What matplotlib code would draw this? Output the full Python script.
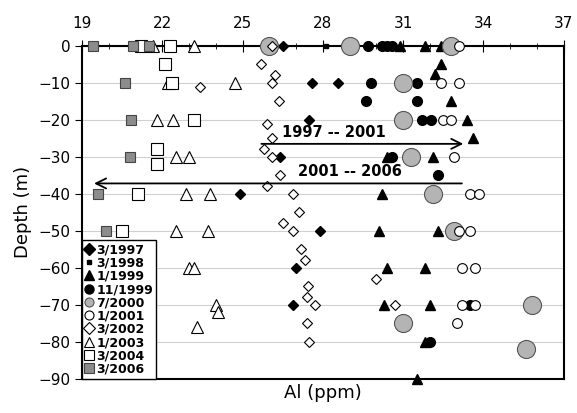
import numpy
from matplotlib import pyplot
from matplotlib.ticker import MultipleLocator

# Al concentration (ppm) and depth (m) per sampling campaign
al_1997 = [26.5, 27.6, 28.55, 27.5, 26.4, 24.9, 27.9, 27.0, 26.9]
z_1997 = [0, -10, -10, -20, -30, -40, -50, -60, -70]

al_1998 = [28.1]
z_1998 = [0]

al_1999a = [30.9, 31.8, 32.4, 32.4, 32.2, 32.8, 33.4, 33.6, 30.4, 32.1,
            30.2, 30.1, 32.3, 30.4, 31.8, 30.3, 32.0, 31.8, 31.5]
z_1999a = [0, 0, 0, -5, -7.5, -15, -20, -25, -30, -30,
           -40, -50, -50, -60, -60, -70, -70, -80, -90]

al_1999b = [29.7, 30.2, 30.4, 30.6, 29.8, 31.5, 29.6, 31.5, 31.7, 32.05,
            30.6, 32.3, 33.5, 32.0]
z_1999b = [0, 0, 0, 0, -10, -10, -15, -15, -20, -20,
           -30, -35, -70, -80]

al_2000 = [26.0, 29.0, 32.8, 31.0, 31.0, 31.3, 32.1, 32.9, 35.8, 31.0, 35.6]
z_2000 = [0, 0, 0, -10, -20, -30, -40, -50, -70, -75, -82]

al_2001 = [33.1, 32.4, 33.1, 32.5, 32.8, 32.9, 33.5, 33.85, 33.1, 33.5,
           33.2, 33.7, 33.2, 33.7, 33.0]
z_2001 = [0, -10, -10, -20, -20, -30, -40, -40, -50, -50,
          -60, -60, -70, -70, -75]

al_2002 = [26.1, 25.7, 26.2, 26.1, 23.4, 26.35, 25.9, 26.1, 25.8, 26.1,
           26.4, 25.9, 26.9, 27.1, 26.5, 26.9, 27.2, 27.35, 30.0, 27.45,
           27.4, 27.7, 30.7, 27.4, 27.5]
z_2002 = [0, -5, -8, -10, -11, -15, -21, -25, -28, -30,
          -35, -38, -40, -45, -48, -50, -55, -58, -63, -65,
          -68, -70, -70, -75, -80]

al_2003 = [21.65, 23.2, 22.2, 24.7, 21.8, 22.4, 22.5, 23.0, 22.9, 23.8,
           22.5, 23.7, 23.0, 23.2, 24.0, 24.1, 23.3]
z_2003 = [0, 0, -10, -10, -20, -20, -30, -30, -40, -40,
          -50, -50, -60, -60, -70, -72, -76]

al_2004 = [21.2, 22.3, 22.1, 22.35, 23.2, 21.8, 21.8, 21.1, 20.5]
z_2004 = [0, 0, -5, -10, -20, -28, -32, -40, -50]

al_2006 = [19.4, 20.9, 21.5, 20.6, 20.85, 20.8, 19.6, 19.9]
z_2006 = [0, 0, 0, -10, -20, -30, -40, -50]

xticks = [19, 22, 25, 28, 31, 34, 37]

fig = pyplot.figure(figsize=(5.77, 4.13), dpi=100)
axes = fig.add_axes([0.142, 0.083, 0.835, 0.806])

grey = "#b4b4b4"
kw = dict(linestyle="none", clip_on=False, zorder=3)
axes.plot(al_1997, z_1997, "D", ms=5.5, color="k", label="3/1997", **kw)
axes.plot(al_1998, z_1998, "s", ms=3.5, color="k", label="3/1998", **kw)
axes.plot(al_1999a, z_1999a, "^", ms=7, color="k", label="1/1999", **kw)
axes.plot(al_1999b, z_1999b, "o", ms=7, color="k", label="11/1999", **kw)
axes.plot(al_2000, z_2000, "o", ms=13, mfc=grey, mec="#555555", mew=0.8,
          label="7/2000", **kw)
axes.plot(al_2001, z_2001, "o", ms=7, mfc="white", mec="k", mew=0.8,
          label="1/2001", **kw)
axes.plot(al_2002, z_2002, "D", ms=5.5, mfc="white", mec="k", mew=0.8,
          label="3/2002", **kw)
axes.plot(al_2003, z_2003, "^", ms=8, mfc="white", mec="k", mew=0.8,
          label="1/2003", **kw)
axes.plot(al_2004, z_2004, "s", ms=8, mfc="white", mec="k", mew=0.8,
          label="3/2004", **kw)
axes.plot(al_2006, z_2006, "s", ms=6.5, mfc="#8c8c8c", mec="#444444", mew=0.8,
          label="3/2006", **kw)

axes.set_xlim(19, 37)
axes.set_ylim(-90, 0)
axes.xaxis.tick_top()
axes.set_xticks(xticks)
axes.xaxis.set_minor_locator(MultipleLocator(1))
axes.yaxis.set_major_locator(MultipleLocator(10))
axes.tick_params(axis="x", which="major", direction="inout", length=9,
                 labelsize=11, pad=6)
axes.tick_params(axis="x", which="minor", direction="inout", length=5)
axes.tick_params(axis="y", direction="out", length=5, labelsize=11)
axes.grid(axis="y", color="#d0d0d0", linewidth=0.8)
axes.set_axisbelow(True)
for side in axes.spines.values():
    side.set_linewidth(1.5)

# trend arrows
axes.annotate("", xy=(33.35, -26.5), xytext=(25.6, -26.5),
              arrowprops=dict(arrowstyle="->", lw=1.3, color="k",
                              mutation_scale=18))
axes.text(28.4, -23.3, "1997 -- 2001", ha="center", va="center",
          fontsize=10.5, fontweight="bold")
axes.annotate("", xy=(19.35, -37.2), xytext=(33.3, -37.2),
              arrowprops=dict(arrowstyle="->", lw=1.3, color="k",
                              mutation_scale=18))
axes.text(29.0, -34.0, "2001 -- 2006", ha="center", va="center",
          fontsize=10.5, fontweight="bold")

leg = axes.legend(loc="lower left", borderaxespad=0, fancybox=False,
                  edgecolor="k", framealpha=1, handlelength=0.6,
                  handletextpad=0.3, labelspacing=0.02, borderpad=0.25,
                  prop=dict(size=9, weight="bold"))
leg.get_frame().set_linewidth(1.0)
for h in leg.legend_handles:
    if h.get_markersize() > 4:
        h.set_markersize(6.5)

axes.set_xlabel("Al (ppm)", fontsize=13)
axes.set_ylabel("Depth (m)", fontsize=13)

fig.savefig("out.png", dpi=100)
